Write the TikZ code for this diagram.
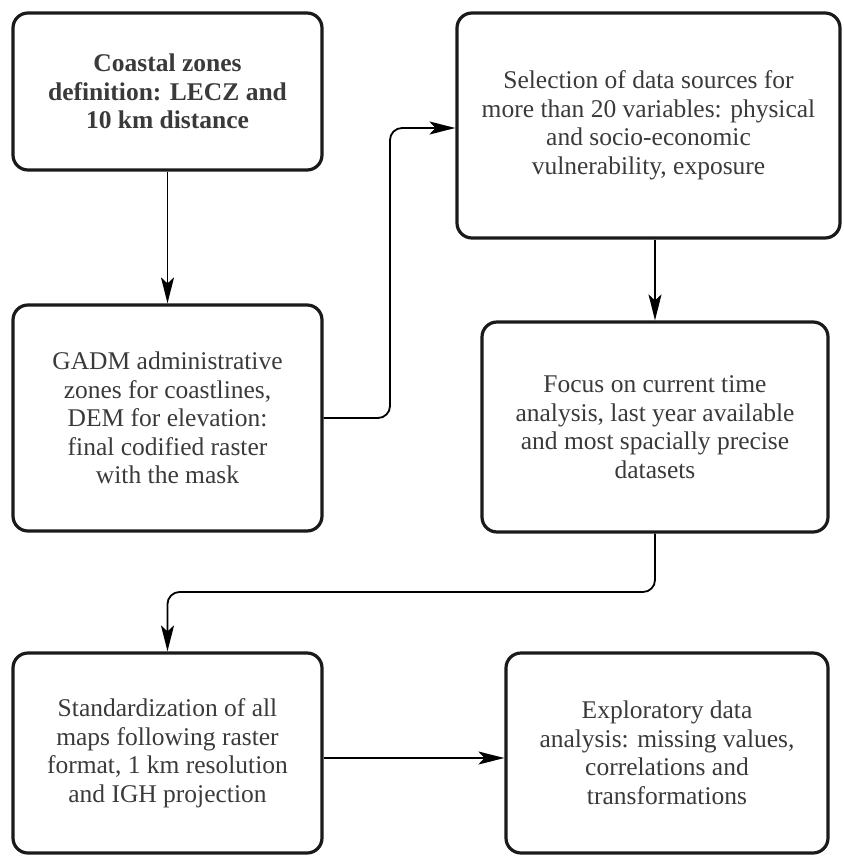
\documentclass[tikz,border=0pt]{standalone}
\usepackage{fontspec}
\setmainfont{Liberation Serif}
\usetikzlibrary{arrows.meta}
\definecolor{txt}{RGB}{58,58,58}
\definecolor{edge}{RGB}{26,26,26}
\tikzset{
  box/.style={draw=edge, line width=3.2pt, rounded corners=15pt, inner sep=0pt,
    align=center, text=txt, font=\fontsize{25.5pt}{28.5pt}\selectfont},
  conn/.style={draw=black, line width=1.8pt, rounded corners=12pt,
    -{Stealth[length=26pt, width=13pt, inset=6pt]}}
}
\begin{document}
\begin{tikzpicture}[x=1pt,y=-1pt]
\useasboundingbox (0,0) rectangle (843,856);
\node[box, minimum width=309pt, minimum height=157pt, font=\bfseries\fontsize{25.5pt}{28.5pt}\selectfont] (b1) at (167.5,91.5)
  {Coastal zones\\definition: LECZ and\\10 km distance};
\node[box, minimum width=309pt, minimum height=226pt] (b2) at (167.5,418)
  {GADM administrative\\zones for coastlines,\\DEM for elevation:\\final codified raster\\with the mask};
\node[box, minimum width=383pt, minimum height=225pt] (b3) at (648.5,125.5)
  {Selection of data sources for\\more than 20 variables: physical\\and socio-economic\\vulnerability, exposure};
\node[box, minimum width=346pt, minimum height=210pt] (b4) at (655,427)
  {Focus on current time\\analysis, last year available\\and most spacially precise\\datasets};
\node[box, minimum width=309pt, minimum height=200pt] (b5) at (167.5,753)
  {Standardization of all\\maps following raster\\format, 1 km resolution\\and IGH projection};
\node[box, minimum width=322pt, minimum height=200pt] (b6) at (667,753)
  {Exploratory data\\analysis: missing values,\\correlations and\\transformations};
\coordinate (m1) at (390,300);
\coordinate (m2) at (400,592);
\draw[conn] (b1.south) -- (b2.north);
\draw[conn] (b2.east) -| (m1) |- ([yshift=-2.5pt]b3.west);
\draw[conn] (b4.north |- b3.south) -- (b4.north);
\draw[conn] (b4.south) |- (m2) -| (b5.north);
\draw[conn] ([yshift=-5pt]b5.east) -- ([yshift=-5pt]b6.west);
\end{tikzpicture}
\end{document}
